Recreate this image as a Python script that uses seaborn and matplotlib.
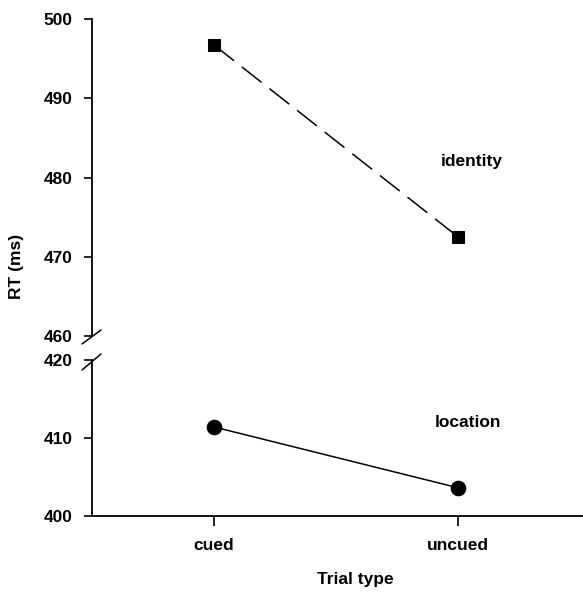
import numpy as np
import pandas as pd
import matplotlib
matplotlib.use('Agg')
import matplotlib.pyplot as plt
import seaborn as sns

trial_types = ['cued', 'uncued']
identity_rt = [496.7, 472.5]
location_rt = [411.4, 403.6]

sns.set_style('ticks')
plt.rcParams['font.family'] = ['Liberation Sans', 'DejaVu Sans']
plt.rcParams['font.size'] = 12.5
plt.rcParams['font.weight'] = 'bold'
for key in ('text.color', 'axes.edgecolor', 'axes.labelcolor', 'xtick.color', 'ytick.color'):
    plt.rcParams[key] = 'black'

df_id = pd.DataFrame({'x': [0, 1], 'rt': identity_rt})
df_loc = pd.DataFrame({'x': [0, 1], 'rt': location_rt})

fig = plt.figure(figsize=(5.83, 5.93), dpi=100)
ax_top = fig.add_axes([0.158, 0.433, 0.85, 0.535])
ax_bot = fig.add_axes([0.158, 0.13, 0.85, 0.263])

sns.lineplot(data=df_id, x='x', y='rt', ax=ax_top, color='black', lw=1.1,
             marker='s', markersize=9, markeredgecolor='black', linestyle=(0, (16.5, 6.5)))
sns.lineplot(data=df_loc, x='x', y='rt', ax=ax_bot, color='black', lw=1.1,
             marker='o', markersize=10.5, markeredgecolor='black')

for ax in (ax_top, ax_bot):
    ax.set_xlim(-0.5, 1.53)
    ax.set_xlabel('')
    ax.set_ylabel('')
    for s in ('top', 'right'):
        ax.spines[s].set_visible(False)
    ax.spines['left'].set_linewidth(1.3)
    ax.tick_params(axis='y', direction='out', length=6, width=1.2, labelsize=12.5, pad=8)

ax_top.set_ylim(460, 500)
ax_top.set_yticks([460, 470, 480, 490, 500])
ax_top.spines['bottom'].set_visible(False)
ax_top.set_xticks([])

ax_bot.set_ylim(400, 420)
ax_bot.set_yticks([400, 410, 420])
ax_bot.spines['bottom'].set_linewidth(1.3)
ax_bot.set_xticks([0, 1])
ax_bot.set_xticklabels(trial_types)
ax_bot.tick_params(axis='x', direction='out', length=7, width=1.2, labelsize=12.5, pad=9)

# break marks on the left spine
kw = dict(color='black', lw=1.1, clip_on=False, transform=fig.transFigure)
fig.add_artist(plt.Line2D([0.1407, 0.1732], [0.420, 0.4435], **kw))
fig.add_artist(plt.Line2D([0.1407, 0.1732], [0.376, 0.403], **kw))

ax_top.text(1.055, 482.0, 'identity', ha='center', va='center')
ax_bot.text(1.04, 412.0, 'location', ha='center', va='center')

fig.text(0.029, 0.551, 'RT (ms)', rotation=90, ha='center', va='center')
fig.text(0.61, 0.022, 'Trial type', ha='center', va='center')

fig.savefig('out.png', dpi=100)
